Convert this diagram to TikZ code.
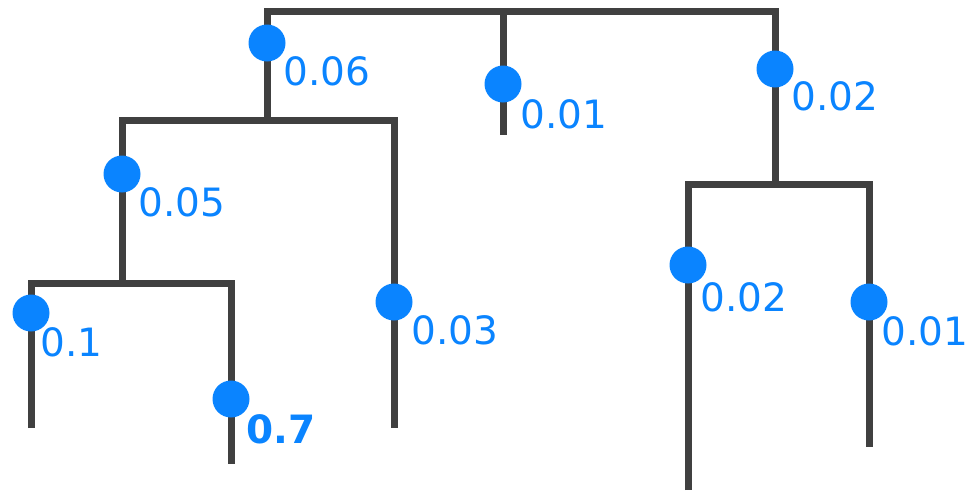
\documentclass[tikz,border=0pt]{standalone}
\usepackage{fontspec}
\setmainfont{DejaVu Sans}
\definecolor{edgegray}{HTML}{404040}
\definecolor{dotblue}{HTML}{0A84FF}
\begin{document}
\begin{tikzpicture}[x=1pt,y=-1pt,
  branch/.style={draw=edgegray,line width=7pt,line cap=butt,line join=miter},
  dotnode/.style={circle,fill=dotblue,draw=none,minimum size=37pt,inner sep=0pt},
  lbl/.style={anchor=base west,inner sep=0pt,text=dotblue,font=\fontsize{39}{46}\selectfont}]
\useasboundingbox (0,0) rectangle (979,490);
% junctions
\coordinate (rL) at (267,11);
\coordinate (rM) at (503,11);
\coordinate (rR) at (775,11);
\coordinate (aS) at (267,120);
\coordinate (aL) at (122,120);
\coordinate (aR) at (394,120);
\coordinate (bS) at (122,283);
\coordinate (bL) at (31,283);
\coordinate (bR) at (231,283);
\coordinate (cS) at (775,184);
\coordinate (cL) at (688,184);
\coordinate (cR) at (869,184);
% leaf ends
\coordinate (eM) at (503,135);
\coordinate (e1) at (31,428);
\coordinate (e2) at (231,464);
\coordinate (e3) at (394,428);
\coordinate (e4) at (688,490);
\coordinate (e5) at (869,447);
% tree
\draw[branch] (aS) -- (rL) -- (rR) -- (cS);
\draw[branch] (rM) -- (eM);
\draw[branch] (bS) -- (aL) -- (aR) -- (e3);
\draw[branch] (e1) -- (bL) -- (bR) -- (e2);
\draw[branch] (e4) -- (cL) -- (cR) -- (e5);
% dots
\node[dotnode] (d06) at (267,43) {};
\node[dotnode] (d01m) at (503,84) {};
\node[dotnode] (d02t) at (775,69) {};
\node[dotnode] (d05) at (122,174) {};
\node[dotnode] (d03) at (394,302) {};
\node[dotnode] (d1) at (31,313) {};
\node[dotnode] (d7) at (231,399) {};
\node[dotnode] (d02b) at (688,265) {};
\node[dotnode] (d01r) at (869,302) {};
% labels
\node[lbl] (l06) at (283,85) {0.06};
\node[lbl] (l01m) at (520,128) {0.01};
\node[lbl] (l02t) at (791,110) {0.02};
\node[lbl] (l05) at (138,216) {0.05};
\node[lbl] (l03) at (411,344) {0.03};
\node[lbl] (l1) at (40,356) {0.1};
\node[lbl,font=\fontsize{39}{46}\selectfont\bfseries] (l7) at (246,443) {0.7};
\node[lbl] (l02b) at (700,311) {0.02};
\node[lbl] (l01r) at (881,345) {0.01};
\end{tikzpicture}
\end{document}
